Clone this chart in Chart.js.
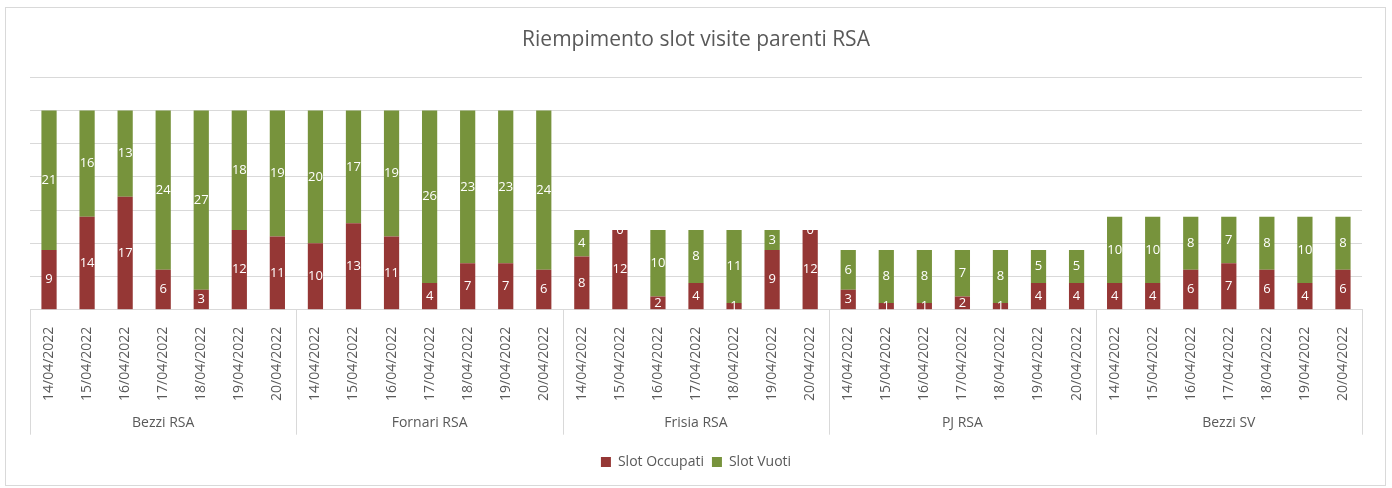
<!DOCTYPE html>
<html>
<head>
<meta charset="utf-8">
<script src="https://cdn.jsdelivr.net/npm/chart.js@4/dist/chart.umd.min.js"></script>
<style>
  body { margin: 0; background: #fff; }
  #box {
    position: absolute; left: 5px; top: 7px;
    width: 1379px; height: 477px;
    border: 1px solid #d9d9d9;
  }
</style>
</head>
<body>
<div id="box"><canvas id="chart" width="1379" height="477"></canvas></div>
<script>
// Riempimento slot visite parenti RSA - stacked bars per struttura e giorno

const groups = ["Bezzi RSA", "Fornari RSA", "Frisia RSA", "PJ RSA", "Bezzi SV"]
const dates = ["14/04/2022", "15/04/2022", "16/04/2022", "17/04/2022", "18/04/2022", "19/04/2022", "20/04/2022"]

const occupati = [
  9, 14, 17, 6, 3, 12, 11,   // Bezzi RSA
  10, 13, 11, 4, 7, 7, 6,    // Fornari RSA
  8, 12, 2, 4, 1, 9, 12,     // Frisia RSA
  3, 1, 1, 2, 1, 4, 4,       // PJ RSA
  4, 4, 6, 7, 6, 4, 6        // Bezzi SV
]
const vuoti = [
  21, 16, 13, 24, 27, 18, 19,
  20, 17, 19, 26, 23, 23, 24,
  4, 0, 10, 8, 11, 3, 0,
  6, 8, 8, 7, 8, 5, 5,
  10, 10, 8, 7, 8, 10, 8
]

const labels = []
groups.forEach(() => dates.forEach(d => labels.push(d)))

const FONT = "'Open Sans', sans-serif"
const GREY = "#595959"
const LINE = "#d9d9d9"

// white value labels inside each segment
const barLabels = {
  id: "barLabels",
  afterDatasetsDraw(chart) {
    const ctx = chart.ctx
    const a = chart.chartArea
    ctx.save()
    ctx.beginPath()
    ctx.rect(a.left, a.top, a.right - a.left, a.bottom - a.top + 1)
    ctx.clip()
    ctx.fillStyle = "#ffffff"
    ctx.font = "13px " + FONT
    ctx.textAlign = "center"
    ctx.textBaseline = "middle"
    chart.data.datasets.forEach((ds, di) => {
      chart.getDatasetMeta(di).data.forEach((bar, i) => {
        const p = bar.getProps(["x", "y", "base"], true)
        ctx.fillText(String(ds.data[i]), p.x, (p.y + p.base) / 2)
      })
    })
    ctx.restore()
  }
}

// second level of the category axis: group separators and names
const groupAxis = {
  id: "groupAxis",
  afterDraw(chart) {
    const x = chart.scales.x
    const ctx = chart.ctx
    const step = (x.right - x.left) / labels.length
    const lineBottom = x.top + 125
    ctx.save()
    ctx.strokeStyle = LINE
    ctx.lineWidth = 1
    for (let g = 0; g <= groups.length; g++) {
      const px = Math.round(x.left + g * dates.length * step) + 0.5
      ctx.beginPath()
      ctx.moveTo(px, x.top)
      ctx.lineTo(px, lineBottom)
      ctx.stroke()
    }
    ctx.fillStyle = GREY
    ctx.font = "14px " + FONT
    ctx.textAlign = "center"
    ctx.textBaseline = "middle"
    groups.forEach((g, i) => {
      const cx = x.left + (i + 0.5) * dates.length * step
      ctx.fillText(g, cx, lineBottom - 12)
    })
    ctx.restore()
  }
}

new Chart(document.getElementById("chart"), {
  type: "bar",
  data: {
    labels: labels,
    datasets: [
      { label: "Slot Occupati", data: occupati, backgroundColor: "#953735", barPercentage: 0.4, categoryPercentage: 1 },
      { label: "Slot Vuoti", data: vuoti, backgroundColor: "#77933c", barPercentage: 0.4, categoryPercentage: 1 }
    ]
  },
  options: {
    responsive: false,
    animation: false,
    layout: { padding: { left: 24, right: 23, top: 9, bottom: 6 } },
    plugins: {
      title: {
        display: true,
        text: "Riempimento slot visite parenti RSA",
        color: GREY,
        font: { family: FONT, size: 21, weight: "normal" },
        padding: { top: 10, bottom: 25 }
      },
      legend: {
        position: "bottom",
        labels: {
          color: GREY,
          font: { family: FONT, size: 14 },
          boxWidth: 10,
          boxHeight: 10,
          padding: 8
        }
      },
      tooltip: { enabled: false }
    },
    scales: {
      x: {
        stacked: true,
        grid: { display: false },
        border: { display: true, color: LINE },
        ticks: {
          color: GREY,
          font: { family: FONT, size: 14 },
          minRotation: 90,
          maxRotation: 90,
          autoSkip: false,
          padding: 9
        },
        afterFit(scale) { scale.height += 37 }
      },
      y: {
        stacked: true,
        min: 0,
        max: 35,
        ticks: { display: false, stepSize: 5 },
        grid: { color: LINE, drawTicks: false },
        border: { display: false }
      }
    }
  },
  plugins: [barLabels, groupAxis]
})
</script>
</body>
</html>
